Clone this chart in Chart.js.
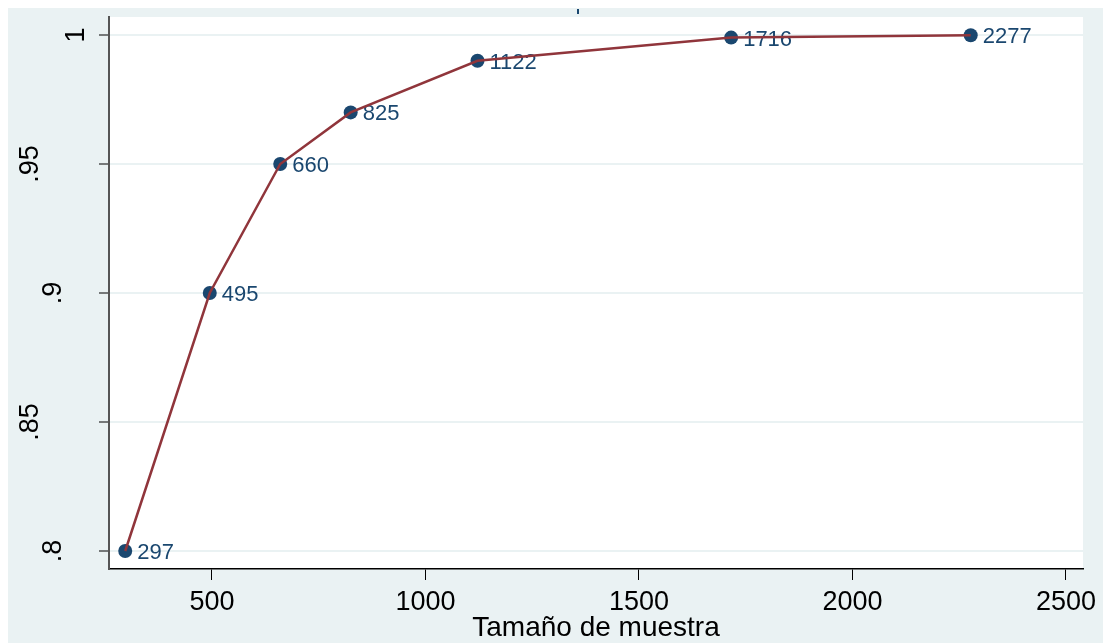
<!DOCTYPE html>
<html>
<head>
<meta charset="utf-8">
<script src="https://cdn.jsdelivr.net/npm/chart.js@4.4.1/dist/chart.umd.min.js"></script>
<style>
  html, body { margin: 0; padding: 0; background: #ffffff; }
  canvas { display: block; }
</style>
</head>
<body>
<canvas id="c" width="1103" height="643"></canvas>
<script>
// Data
const sampleSizes = [297, 495, 660, 825, 1122, 1716, 2277];
const powerValues = [0.80, 0.90, 0.95, 0.97, 0.99, 0.999, 0.9999];
const pointLabels = ['297', '495', '660', '825', '1122', '1716', '2277'];
const xTickValues = [500, 1000, 1500, 2000, 2500];
const yTickValues = [0.8, 0.85, 0.9, 0.95, 1];
const yTickLabels = ['.8', '.85', '.9', '.95', '1'];
const xAxisTitle = 'Tamaño de muestra';

const NAVY = '#1a476f';
const MAROON = '#90353b';
const BG = '#eaf2f3';
const FONT = '"Liberation Sans", Arial, sans-serif';

const pts = sampleSizes.map((x, i) => ({ x: x, y: powerValues[i] }));

const decorPlugin = {
  id: 'decor',
  beforeDraw(chart) {
    const ctx = chart.ctx;
    const a = chart.chartArea;
    ctx.save();
    ctx.fillStyle = '#ffffff';
    ctx.fillRect(0, 0, chart.width, chart.height);
    ctx.fillStyle = BG;
    ctx.fillRect(8, 8, chart.width - 8, chart.height - 8);
    ctx.fillStyle = '#ffffff';
    ctx.fillRect(a.left, a.top, a.right - a.left, a.bottom - a.top);
    // clipped title remnant
    ctx.fillStyle = NAVY;
    ctx.fillRect(577, 9, 2, 5);
    ctx.restore();
  },
  beforeDatasetsDraw(chart) {
    const ctx = chart.ctx;
    const meta = chart.getDatasetMeta(0);
    ctx.save();
    ctx.font = '22px ' + FONT;
    ctx.fillStyle = NAVY;
    ctx.textAlign = 'left';
    ctx.textBaseline = 'middle';
    meta.data.forEach((el, i) => {
      ctx.fillText(pointLabels[i], el.x + 12, el.y + 2);
    });
    ctx.restore();
  },
  afterDraw(chart) {
    const ctx = chart.ctx;
    const ys = chart.scales.y;
    const a = chart.chartArea;
    ctx.save();
    ctx.fillStyle = '#000000';
    ctx.font = '27px ' + FONT;
    ctx.textAlign = 'center';
    ctx.textBaseline = 'middle';
    yTickValues.forEach((v, i) => {
      const lbl = yTickLabels[i];
      const py = ys.getPixelForValue(v);
      const cx = 100 - 23 * lbl.length;
      ctx.save();
      ctx.translate(cx, py);
      ctx.rotate(-Math.PI / 2);
      ctx.fillText(lbl, 0, 0);
      ctx.restore();
    });
    ctx.font = '28px ' + FONT;
    ctx.textBaseline = 'alphabetic';
    ctx.fillText(xAxisTitle, (a.left + a.right) / 2, 636);
    ctx.restore();
  }
};

new Chart(document.getElementById('c'), {
  type: 'scatter',
  data: {
    datasets: [
      {
        data: pts,
        showLine: false,
        pointRadius: 7,
        pointHoverRadius: 7,
        pointBackgroundColor: NAVY,
        pointBorderColor: NAVY,
        pointBorderWidth: 0,
        order: 2
      },
      {
        data: pts,
        showLine: true,
        borderColor: MAROON,
        borderWidth: 2.5,
        pointRadius: 0,
        fill: false,
        tension: 0,
        order: 1
      }
    ]
  },
  plugins: [decorPlugin],
  options: {
    responsive: false,
    animation: false,
    devicePixelRatio: 1,
    layout: { padding: { top: 17, right: 20, left: 0, bottom: 0 } },
    plugins: { legend: { display: false }, tooltip: { enabled: false }, title: { display: false } },
    scales: {
      x: {
        type: 'linear',
        min: 259,
        max: 2540,
        afterBuildTicks(scale) { scale.ticks = xTickValues.map(v => ({ value: v })); },
        afterFit(scale) { scale.height = 74; },
        ticks: {
          color: '#000000',
          font: { family: FONT, size: 27 },
          padding: 6,
          maxRotation: 0,
          autoSkip: false,
          callback: (v) => String(v)
        },
        grid: { drawOnChartArea: false, tickColor: '#000000', tickLength: 11, tickWidth: 1 },
        border: { color: '#000000', width: 1.5 }
      },
      y: {
        type: 'linear',
        min: 0.79302,
        max: 1.00698,
        afterBuildTicks(scale) { scale.ticks = yTickValues.map(v => ({ value: v })); },
        afterFit(scale) { scale.width = 109; },
        ticks: { display: false },
        grid: { color: BG, lineWidth: 2, tickColor: '#000000', tickLength: 10, tickWidth: 1 },
        border: { color: '#555555', width: 2 }
      }
    }
  }
});
</script>
</body>
</html>
